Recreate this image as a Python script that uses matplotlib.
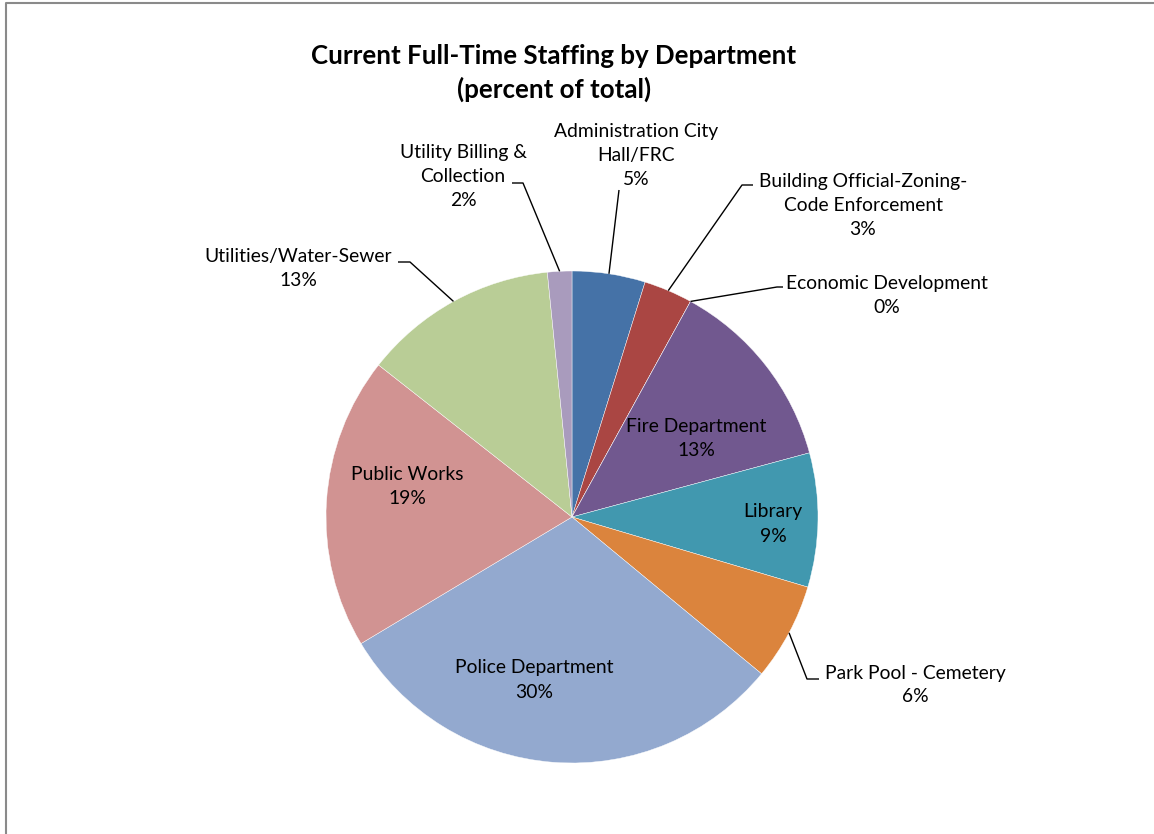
import matplotlib.pyplot as plt
import numpy as np

W, H = 1154, 834

departments = ['Administration City\nHall/FRC', 'Building Official-Zoning-\nCode Enforcement',
               'Economic Development', 'Fire Department', 'Library', 'Park Pool - Cemetery',
               'Police Department', 'Public Works', 'Utilities/Water-Sewer',
               'Utility Billing &\nCollection']
full_time_staff = [3, 2, 0, 8, 5.5, 4, 19, 12, 8, 1]
colors = ['#4572A7', '#AA4643', '#89A54E', '#71588F', '#4198AF',
          '#DB843D', '#93A9CF', '#D19392', '#B9CD96', '#A99BBD']

# label block centres and leader elbows, in pixels from the top-left corner
label_pos = [(636, 155), (863, 205), (887, 295), (696, 438), (773, 524),
             (915, 685), (534, 680), (407, 486), (298, 268), (463, 176)]
leaders = {0: [(619, 190)],
           1: [(742, 185), (753, 185)],
           2: [(777, 287), (783, 287)],
           5: [(807, 679), (819, 679)],
           8: [(410, 262), (398, 262)],
           9: [(523, 183), (512, 183)]}

plt.rcParams['font.family'] = ['Lato', 'DejaVu Sans']

fig = plt.figure(figsize=(W / 100, H / 100), dpi=100)
ax = fig.add_axes([0, 0, 1, 1])


def px(x, y):
    return x, H - y


cx, cy = px(572, 517)
radius = 246

wedges, _ = ax.pie(full_time_staff, colors=colors, startangle=90, counterclock=False,
                   center=(cx, cy), radius=radius, frame=True,
                   wedgeprops=dict(edgecolor='white', linewidth=0.3))
ax.set_xlim(0, W)
ax.set_ylim(0, H)
ax.set_aspect('equal')
ax.axis('off')

total = sum(full_time_staff)
for i, (name, val, w) in enumerate(zip(departments, full_time_staff, wedges)):
    pct = val / total * 100
    tx, ty = px(*label_pos[i])
    ax.text(tx, ty, f'{name}\n{pct:.0f}%', ha='center', va='center', fontsize=13.9,
            color='black', linespacing=1.5)
    if i in leaders:
        mid = np.deg2rad((w.theta1 + w.theta2) / 2)
        xs = [cx + radius * np.cos(mid)]
        ys = [cy + radius * np.sin(mid)]
        for p in leaders[i]:
            x, y = px(*p)
            xs.append(x)
            ys.append(y)
        ax.plot(xs, ys, color='black', linewidth=1.0, solid_capstyle='butt')

ax.text(*px(554, 73), 'Current Full-Time Staffing by Department\n(percent of total)',
        ha='center', va='center', fontsize=18.6, fontweight='bold', linespacing=1.45)

# chart area border (left and top edges)
ax.plot([5.5, 5.5, W], [0, H - 2.5, H - 2.5], color='#8a8a8a', linewidth=1.5)

fig.savefig('out.png', dpi=100)
